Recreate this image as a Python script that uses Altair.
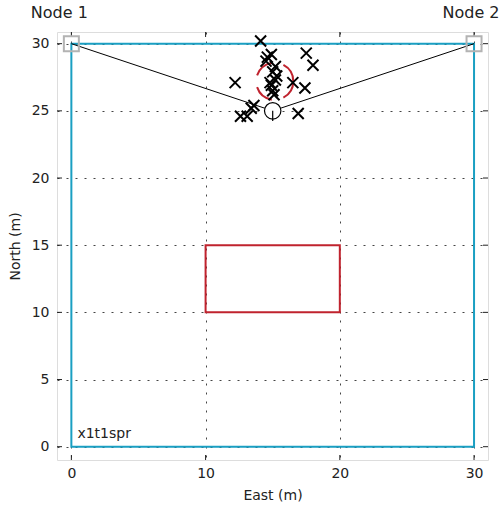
import altair as alt
import pandas as pd

# ---- data ----
x_ticks = [0, 10, 20, 30]
y_ticks = [0, 5, 10, 15, 20, 25, 30]

area_x = [0]; area_x2 = [30]; area_y = [0]; area_y2 = [30]          # cyan boundary
obst_x = [10]; obst_x2 = [20]; obst_y = [10]; obst_y2 = [15]        # red obstacle

node_names = ["Node 1", "Node 2"]
node_x = [0, 30]
node_y = [30, 30]

path_x = [0, 15, 30]
path_y = [30, 25, 30]
path_order = [0, 1, 2]

target_x = [15]
target_y = [25]
target_y2 = [24.25]

est_x = [15.15]
est_y = [27.2]

meas_x = [14.1, 14.9, 14.6, 14.5, 15.2, 15.0, 15.3, 14.8, 15.0, 14.9, 15.1,
          17.5, 18.0, 12.2, 16.5, 17.4, 13.6, 13.4, 13.1, 12.6, 16.9, 15.2]
meas_y = [30.2, 29.2, 29.0, 28.7, 28.3, 27.9, 27.6, 27.1, 26.5, 26.9, 26.2,
          29.3, 28.4, 27.1, 27.1, 26.7, 25.4, 25.2, 24.6, 24.6, 24.8, 27.3]

label_text = ["x1t1spr"]
label_x = [0.45]
label_y = [0.65]

# ---- layout ----
W, H = 431, 428
FONT = "DejaVu Sans"
CYAN = "#1a9fc2"
RED = "#c0232e"
XDOM = [-1.07, 31.04]
YDOM = [-0.99, 30.87]

xs = alt.Scale(domain=XDOM, nice=False, zero=False)
ys = alt.Scale(domain=YDOM, nice=False, zero=False)

xaxis = alt.Axis(values=x_ticks, title="East (m)", grid=True, gridDash=[2, 7],
                 gridColor="#444", gridOpacity=1, ticks=False, domain=False,
                 labelPadding=6, titlePadding=8, labelFontSize=14, titleFontSize=14,
                 labelColor="#222", titleColor="#222", titleFontWeight="normal",
                 labelFont=FONT, titleFont=FONT)
yaxis = alt.Axis(values=y_ticks, title="North (m)", grid=True, gridDash=[2, 7],
                 gridColor="#444", gridOpacity=1, ticks=False, domain=False,
                 labelPadding=8, titlePadding=9, labelFontSize=14, titleFontSize=14,
                 labelColor="#222", titleColor="#222", titleFontWeight="normal",
                 labelFont=FONT, titleFont=FONT)

df_area = pd.DataFrame({"x": area_x, "x2": area_x2, "y": area_y, "y2": area_y2})
df_obst = pd.DataFrame({"x": obst_x, "x2": obst_x2, "y": obst_y, "y2": obst_y2})
df_nodes = pd.DataFrame({"name": node_names, "x": node_x, "y": node_y})
df_path = pd.DataFrame({"x": path_x, "y": path_y, "o": path_order})
df_target = pd.DataFrame({"x": target_x, "y": target_y, "y2": target_y2})
df_est = pd.DataFrame({"x": est_x, "y": est_y})
df_meas = pd.DataFrame({"x": meas_x, "y": meas_y})
df_label = pd.DataFrame({"t": label_text, "x": label_x, "y": label_y})
df_xt = pd.DataFrame({"v": x_ticks})
df_yt = pd.DataFrame({"v": y_ticks})

base_grid = alt.Chart(df_area).mark_rect(filled=False, stroke=CYAN, strokeWidth=2).encode(
    x=alt.X("x:Q", scale=xs, axis=xaxis), x2="x2", y=alt.Y("y:Q", scale=ys, axis=yaxis), y2="y2")

obst = alt.Chart(df_obst).mark_rect(filled=False, stroke=RED, strokeWidth=2).encode(
    x=alt.X("x:Q", scale=xs), x2="x2", y=alt.Y("y:Q", scale=ys), y2="y2")

# inward ticks
tick_len = 5
left_t = alt.Chart(df_yt).mark_rule(color="#222").encode(
    y=alt.Y("v:Q", scale=ys), x=alt.value(0), x2=alt.value(tick_len))
right_t = alt.Chart(df_yt).mark_rule(color="#222").encode(
    y=alt.Y("v:Q", scale=ys), x=alt.value(W), x2=alt.value(W - tick_len))
bottom_t = alt.Chart(df_xt).mark_rule(color="#222").encode(
    x=alt.X("v:Q", scale=xs), y=alt.value(H), y2=alt.value(H - tick_len))
top_t = alt.Chart(df_xt).mark_rule(color="#222").encode(
    x=alt.X("v:Q", scale=xs), y=alt.value(0), y2=alt.value(tick_len))

path = alt.Chart(df_path).mark_line(color="black", strokeWidth=1).encode(
    x=alt.X("x:Q", scale=xs), y=alt.Y("y:Q", scale=ys), order="o:Q")

nodes = alt.Chart(df_nodes).mark_point(shape="square", filled=False, color="#b3b3b3",
                                       strokeWidth=2, size=225, opacity=1).encode(
    x=alt.X("x:Q", scale=xs), y=alt.Y("y:Q", scale=ys))

node1_txt = alt.Chart(df_nodes).transform_filter(alt.datum.name == "Node 1").mark_text(
    fontSize=16, font=FONT, color="#222", baseline="alphabetic", align="center", dy=-26, dx=-12).encode(
    x=alt.X("x:Q", scale=xs), y=alt.Y("y:Q", scale=ys), text="name:N")
node2_txt = alt.Chart(df_nodes).transform_filter(alt.datum.name == "Node 2").mark_text(
    fontSize=16, font=FONT, color="#222", baseline="alphabetic", align="center", dy=-26, dx=-3).encode(
    x=alt.X("x:Q", scale=xs), y=alt.Y("y:Q", scale=ys), text="name:N")

target = alt.Chart(df_target).mark_point(shape="circle", filled=True, fill="white",
                                         stroke="black", strokeWidth=1.2, size=270, opacity=1).encode(
    x=alt.X("x:Q", scale=xs), y=alt.Y("y:Q", scale=ys))
target_tail = alt.Chart(df_target).mark_rule(color="black", strokeWidth=1.2).encode(
    x=alt.X("x:Q", scale=xs), y=alt.Y("y:Q", scale=ys), y2="y2")

est = alt.Chart(df_est).mark_point(shape="circle", filled=False, color=RED,
                                   strokeWidth=2, size=1380, strokeDash=[20, 12], opacity=1).encode(
    x=alt.X("x:Q", scale=xs), y=alt.Y("y:Q", scale=ys))

meas = alt.Chart(df_meas).mark_point(shape="M-1,-1L1,1M-1,1L1,-1", filled=False, color="black",
                                     strokeWidth=2, size=121, opacity=1).encode(
    x=alt.X("x:Q", scale=xs), y=alt.Y("y:Q", scale=ys))

lbl = alt.Chart(df_label).mark_text(fontSize=14, font=FONT, color="#222", align="left",
                                    baseline="alphabetic").encode(
    x=alt.X("x:Q", scale=xs), y=alt.Y("y:Q", scale=ys), text="t:N")

chart = alt.layer(
    base_grid, obst, left_t, right_t, bottom_t, top_t, path, nodes, target, target_tail,
    est, meas, lbl, node1_txt, node2_txt
).properties(
    width=W, height=H,
    autosize=alt.AutoSizeParams(type="none"),
    padding={"left": 57, "top": 32, "right": 15, "bottom": 49},
).configure_view(stroke="#222", strokeWidth=1).configure(font=FONT, background="white")

chart.save("out.html", embed_options={"renderer": "svg", "actions": False})
